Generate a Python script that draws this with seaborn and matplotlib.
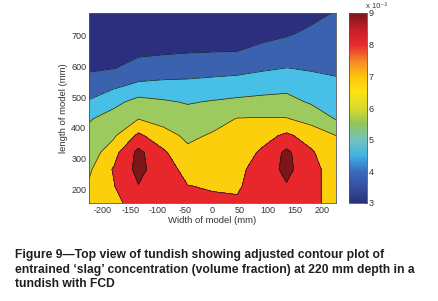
import numpy as np
import matplotlib
matplotlib.use("Agg")
import matplotlib.pyplot as plt
import seaborn as sns
from matplotlib.colors import Normalize
from matplotlib.cm import ScalarMappable

sns.set_theme(style="white")
plt.rcParams['font.family'] = ['Liberation Sans', 'DejaVu Sans']
plt.rcParams['axes.unicode_minus'] = False

# ---- data (x10^-3 volume fraction) ----
width_mm = [-225, -180, -135, -90, -45, 0, 45, 90, 135, 180, 225]
length_mm = [155, 210, 265, 320, 375, 430, 485, 540, 595, 650, 710, 775]
# rows follow length_mm, columns follow width_mm
conc = [
    [6.70, 7.00, 7.80, 7.60, 7.60, 7.45, 7.40, 7.60, 7.70, 7.50, 7.00],
    [6.50, 7.24, 8.55, 7.70, 7.32, 7.23, 7.20, 7.70, 8.50, 7.60, 6.85],
    [6.26, 7.38, 9.00, 7.80, 6.96, 6.98, 7.01, 7.80, 8.95, 7.70, 6.70],
    [6.00, 6.85, 8.95, 7.45, 6.59, 6.74, 6.82, 7.43, 8.90, 7.42, 6.55],
    [5.73, 6.28, 7.47, 6.74, 6.22, 6.49, 6.63, 6.97, 7.47, 6.88, 6.40],
    [5.43, 5.83, 6.38, 6.08, 5.84, 6.07, 6.43, 6.46, 6.44, 6.10, 5.45],
    [4.78, 5.28, 5.76, 5.59, 5.44, 5.55, 5.66, 5.74, 5.79, 5.39, 5.14],
    [4.19, 4.52, 4.84, 4.90, 4.90, 4.97, 5.03, 5.13, 5.22, 5.00, 4.83],
    [3.81, 3.88, 4.14, 4.26, 4.34, 4.40, 4.46, 4.60, 4.71, 4.63, 4.58],
    [3.62, 3.71, 3.77, 3.81, 3.85, 3.88, 3.90, 4.05, 4.24, 4.34, 4.39],
    [3.42, 3.51, 3.54, 3.57, 3.61, 3.65, 3.66, 3.72, 3.81, 4.03, 4.18],
    [3.20, 3.30, 3.30, 3.30, 3.35, 3.40, 3.40, 3.45, 3.50, 3.70, 3.95],
]
levels = [3.0, 3.9, 4.7, 5.5, 6.4, 7.3, 8.6, 9.2]
band_colors = ["#2b2f7e", "#3a62ae", "#47bfe6", "#9dca5e", "#fbcf0c", "#e8272c", "#7d1519"]
cbar_colors = ["#29307a", "#3550a0", "#3a6cbc", "#3fb4e4", "#74c3bb", "#93c45c",
               "#d7db2a", "#fbe214", "#fbc40c", "#f5862a", "#e82a2c", "#c41f28", "#7b1418"]
xticks = [-200, -150, -100, -50, 0, 50, 100, 150, 200]
yticks = [200, 300, 400, 500, 600, 700]
cbar_ticks = [3, 4, 5, 6, 7, 8, 9]
caption = ["Figure 9\u2014Top view of tundish showing adjusted contour plot of",
           "entrained \u2018slag\u2019 concentration (volume fraction) at 220 mm depth in a",
           "tundish with FCD"]

fig = plt.figure(figsize=(4.38, 3.01), dpi=100)
ax = fig.add_axes([89/438, 1 - 203/301, 247/438, 190/301])
X, Y = np.meshgrid(width_mm, length_mm)
Z = np.array(conc)
ax.contourf(X, Y, Z, levels=levels, colors=band_colors)
ax.contour(X, Y, Z, levels=levels[1:-1], colors="#1a1a1a", linewidths=0.5)
ax.set_xlim(-225, 225)
ax.set_ylim(155, 775)
ax.set_xticks(xticks)
ax.set_yticks(yticks)
ax.tick_params(direction="in", length=2.5, width=0.5, top=True, right=True,
               labelsize=6.5, colors="#333333", pad=2, labelcolor="#333333")
for s in ax.spines.values():
    s.set_linewidth(0.6)
    s.set_color("#555555")
ax.set_xlabel("Width of model (mm)", fontsize=6.8, color="#333333", labelpad=1)
ax.set_ylabel("length of model (mm)", fontsize=6.8, color="#333333", labelpad=2)

cax = fig.add_axes([349/438, 1 - 203/301, 18/438, 190/301])
cmap = sns.blend_palette(cbar_colors, n_colors=256, as_cmap=True)
sm = ScalarMappable(norm=Normalize(3, 9), cmap=cmap)
cb = fig.colorbar(sm, cax=cax, ticks=cbar_ticks)
cb.outline.set_linewidth(0.6)
cb.outline.set_edgecolor("#555555")
cax.tick_params(direction="in", length=2.5, width=0.5, labelsize=6.5,
                colors="#333333", pad=1)
fig.text(366/438, 1 - 6/301, "x 10\u207b\u00b3", fontsize=5.5,
         color="#333333", ha="left", va="center")

for i, line in enumerate(caption):
    fig.text(15/438, 1 - (255 + i*14.7)/301, line, fontsize=8.7, fontweight="bold",
             color="#1e1e1e", ha="left", va="center")

fig.savefig("out.png", dpi=100)
